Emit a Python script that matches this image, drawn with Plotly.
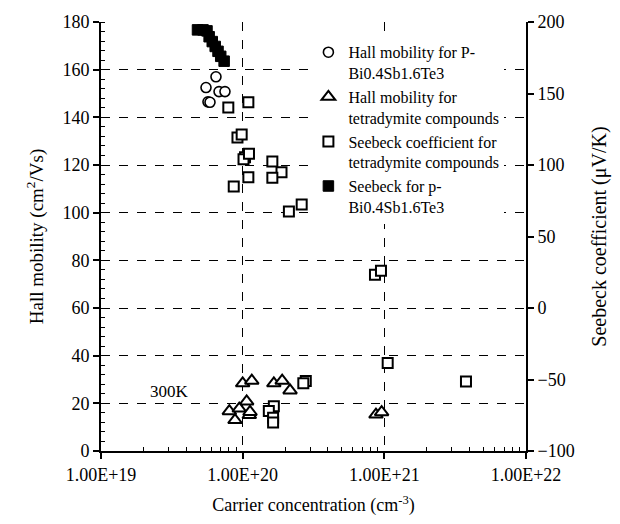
import plotly.graph_objects as go

# ---- data ----
# Hall mobility for P-Bi0.4Sb1.6Te3 (left axis)
hall_p_n = [6.48e19, 5.51e19, 6.81e19, 7.50e19, 5.69e19, 5.88e19]
hall_p_mu = [157.0, 152.5, 150.8, 150.8, 146.5, 146.3]

# Hall mobility for tetradymite compounds (left axis)
hall_t_n = [1.00e20, 1.16e20, 1.66e20, 1.90e20, 2.16e20, 1.067e20, 8.05e19,
            9.46e19, 1.114e20, 1.127e20, 8.83e19, 8.73e20, 9.57e20]
hall_t_mu = [28.4, 29.5, 28.4, 29.5, 25.4, 20.8, 16.7,
             17.8, 15.1, 16.4, 13.0, 15.3, 16.3]

# Seebeck coefficient for tetradymite compounds (right axis)
seeb_t_n = [7.92e19, 1.097e20, 9.19e19, 9.84e19, 1.039e20, 1.014e20, 1.108e20,
            1.62e20, 1.88e20, 1.097e20, 1.62e20, 8.65e19, 2.12e20, 2.61e20,
            8.59e20, 9.47e20, 1.056e21, 3.77e21, 2.79e20, 2.68e20, 1.66e20,
            1.53e20, 1.64e20, 1.64e20]
seeb_t_s = [140.2, 143.8, 119.2, 121.4, 105.5, 104.1, 107.9,
            102.4, 95.0, 91.4, 91.1, 84.9, 67.5, 72.3,
            23.3, 26.0, -38.4, -51.4, -51.0, -52.7, -68.7,
            -72.1, -76.7, -80.1]

# Seebeck for p-Bi0.4Sb1.6Te3 (right axis)
seeb_p_n = [4.8e19, 5.25e19, 5.6e19, 5.8e19, 6.1e19, 6.4e19, 6.7e19, 7.0e19, 7.4e19]
seeb_p_s = [194.5, 194.5, 193.8, 189.7, 186.3, 182.9, 179.5, 176.0, 172.6]

x_tickvals = [1e19, 1e20, 1e21, 1e22]
x_ticktext = ["1.00E+19", "1.00E+20", "1.00E+21", "1.00E+22"]
x_minor = [m * 10.0 ** e for e in (19, 20, 21) for m in range(2, 10)]

FONT = "Liberation Serif"

fig = go.Figure()
fig.add_trace(go.Scatter(
    x=hall_p_n, y=hall_p_mu, mode="markers",
    name="Hall mobility for P-<br>Bi0.4Sb1.6Te3",
    marker=dict(symbol="circle", size=10, color="white",
                line=dict(color="black", width=1.6)),
    xaxis="x", yaxis="y"))
fig.add_trace(go.Scatter(
    x=hall_t_n, y=hall_t_mu, mode="markers",
    name="Hall mobility for<br>tetradymite compounds",
    marker=dict(symbol="triangle-up", size=12, color="white",
                line=dict(color="black", width=2)),
    xaxis="x", yaxis="y"))
fig.add_trace(go.Scatter(
    x=seeb_t_n, y=seeb_t_s, mode="markers",
    name="Seebeck coefficient for<br>tetradymite compounds",
    marker=dict(symbol="square", size=10, color="white",
                line=dict(color="black", width=2)),
    xaxis="x", yaxis="y2"))
fig.add_trace(go.Scatter(
    x=seeb_p_n, y=seeb_p_s, mode="markers",
    name="Seebeck for p-<br>Bi0.4Sb1.6Te3",
    marker=dict(symbol="square", size=10.5, color="black",
                line=dict(color="black", width=1)),
    xaxis="x", yaxis="y2"))

axfont = dict(family=FONT, size=18, color="black")

fig.update_layout(
    width=620, height=524,
    margin=dict(l=101, r=94, t=16, b=70),
    paper_bgcolor="white", plot_bgcolor="white",
    font=dict(family=FONT, size=18, color="black"),
    showlegend=True,
    legend=dict(x=0.488, y=0.969, xanchor="left", yanchor="top",
                bgcolor="white", borderwidth=0, valign="top",
                font=dict(family=FONT, size=16, color="black"),
                tracegroupgap=0, itemwidth=30),
    xaxis=dict(type="log", range=[19, 22],
               tickmode="array", tickvals=x_tickvals, ticktext=x_ticktext,
               ticks="outside", ticklen=6, tickwidth=1.5, tickcolor="black",
               showline=True, linewidth=2, linecolor="black",
               showgrid=True, gridcolor="black", gridwidth=1, griddash="dash",
               zeroline=False, tickfont=axfont,
               minor=dict(tickmode="array", tickvals=x_minor, ticks="inside",
                          ticklen=4, tickwidth=1, tickcolor="black", showgrid=False),
               title=dict(text="Carrier concentration (cm<sup>-3</sup>)",
                          font=dict(family=FONT, size=18), standoff=15)),
    xaxis3=dict(type="log", range=[19, 22], overlaying="x", anchor="y", side="bottom",
                tickmode="array", tickvals=x_tickvals, showticklabels=False,
                ticks="inside", ticklen=6, tickwidth=1.5, tickcolor="black",
                showgrid=False, showline=False, zeroline=False),
    yaxis=dict(range=[0, 180], dtick=20, tick0=0,
               ticks="outside", ticklen=6, tickwidth=1.5, tickcolor="black",
               showline=True, linewidth=2, linecolor="black",
               showgrid=True, gridcolor="black", gridwidth=1, griddash="dash",
               zeroline=False, tickfont=axfont,
               minor=dict(dtick=4, tick0=0, ticks="inside", ticklen=4,
                          tickwidth=1, tickcolor="black", showgrid=False),
               title=dict(text="Hall mobility (cm<sup>2</sup>/Vs)",
                          font=dict(family=FONT, size=19), standoff=14)),
    yaxis3=dict(range=[0, 180], dtick=20, overlaying="y", anchor="x", side="left",
                ticks="inside", ticklen=6, tickwidth=1.5, tickcolor="black",
                showticklabels=False, showgrid=False, showline=False, zeroline=False),
    yaxis2=dict(range=[-100, 200], dtick=50, tick0=0, overlaying="y", anchor="x",
                side="right",
                ticks="outside", ticklen=6, tickwidth=1.5, tickcolor="black",
                showline=True, linewidth=2, linecolor="black",
                showgrid=False, zeroline=False, tickfont=axfont,
                title=dict(text="Seebeck coefficient (μV/K)",
                           font=dict(family=FONT, size=20), standoff=18)),
    yaxis4=dict(range=[-100, 200], dtick=50, overlaying="y", anchor="x", side="right",
                ticks="inside", ticklen=6, tickwidth=1.5, tickcolor="black",
                showticklabels=False, showgrid=False, showline=False, zeroline=False),
    annotations=[dict(text="300K", xref="paper", yref="y", x=0.162, y=25,
                      xanchor="center", yanchor="middle",
                      showarrow=False, font=dict(family=FONT, size=17, color="black"))],
)

fig.write_html("out.html")
